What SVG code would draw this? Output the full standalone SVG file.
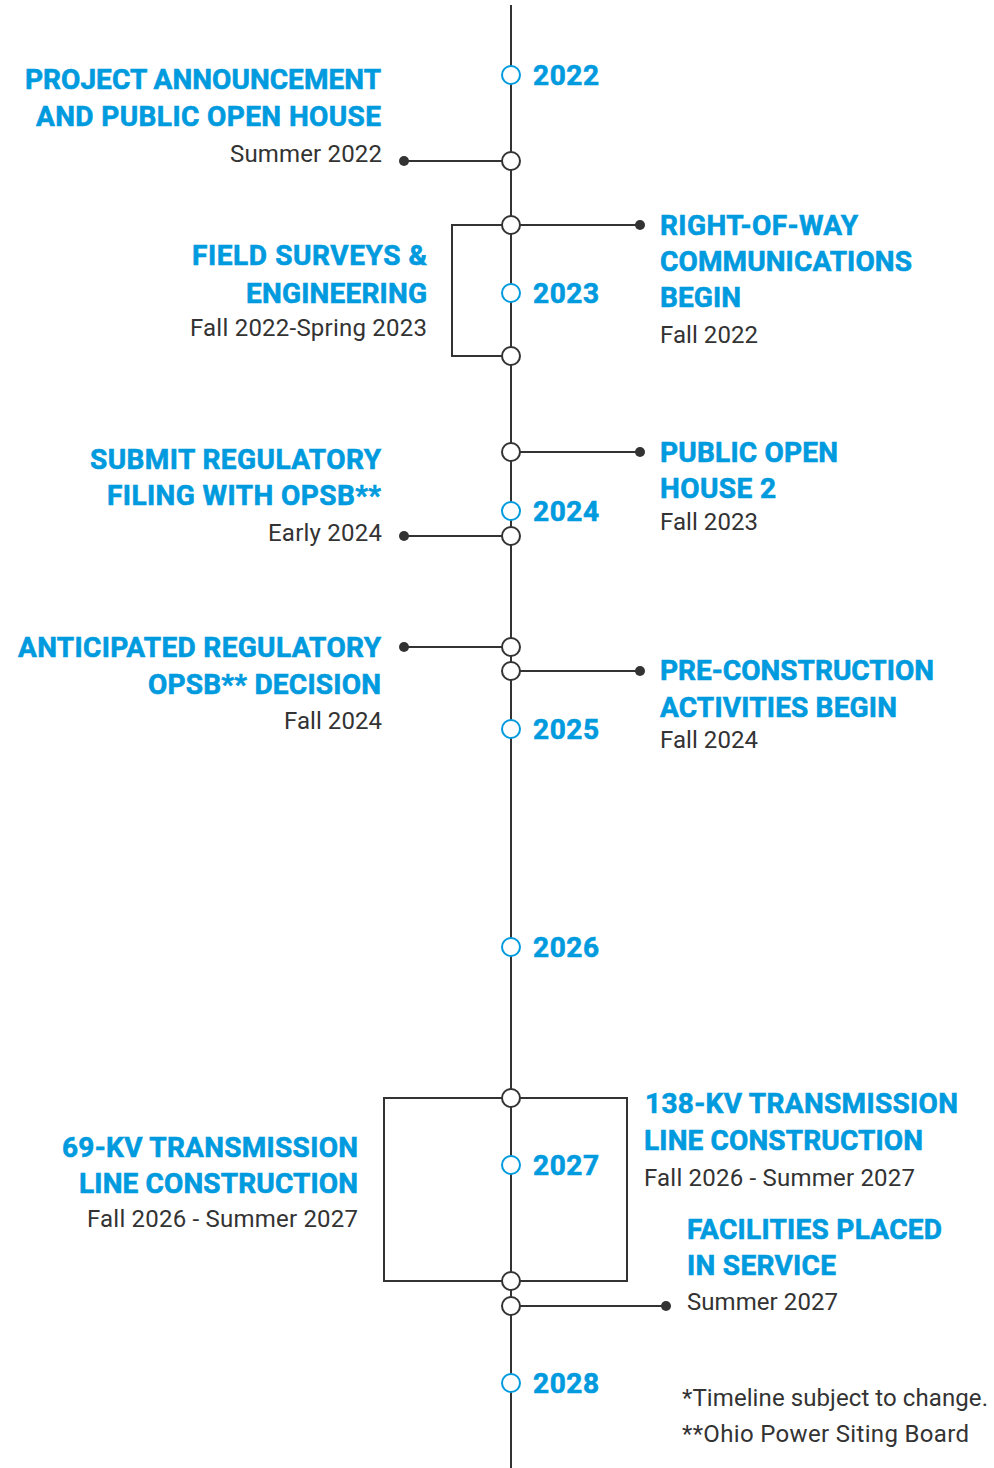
<svg xmlns="http://www.w3.org/2000/svg" width="994" height="1468" viewBox="0 0 994 1468">
<style>
.h{font-family:Roboto,"Liberation Sans",sans-serif;font-weight:700;font-size:28px;fill:#009ade;stroke:#009ade;stroke-width:0.6}
.y{font-family:Roboto,"Liberation Sans",sans-serif;font-weight:700;font-size:28px;fill:#009ade;stroke:#009ade;stroke-width:0.6}
.s{font-family:Roboto,"Liberation Sans",sans-serif;font-weight:400;font-size:24px;fill:#333}
.r{text-anchor:end}
.ln{stroke:#333;stroke-width:2;fill:none}
.ev{fill:#fff;stroke:#333;stroke-width:2}
.yr{fill:#fff;stroke:#009ade;stroke-width:2}
.dot{fill:#333}
</style>
<rect width="994" height="1468" fill="#fff"/>
<g id="connectors">
  <line class="ln" x1="511" y1="5" x2="511" y2="1468"/>
  <line class="ln" x1="404" y1="161" x2="511" y2="161"/>
  <polyline class="ln" points="511,225 452,225 452,356 511,356"/>
  <line class="ln" x1="511" y1="225" x2="640" y2="225"/>
  <line class="ln" x1="511" y1="452" x2="640" y2="452"/>
  <line class="ln" x1="404" y1="536" x2="511" y2="536"/>
  <line class="ln" x1="404" y1="647" x2="511" y2="647"/>
  <line class="ln" x1="511" y1="671" x2="640" y2="671"/>
  <rect class="ln" x="384" y="1098" width="243" height="183"/>
  <line class="ln" x1="511" y1="1306" x2="666" y2="1306"/>
  <circle class="dot" cx="404" cy="161" r="5"/>
  <circle class="dot" cx="640" cy="225" r="5"/>
  <circle class="dot" cx="640" cy="452" r="5"/>
  <circle class="dot" cx="404" cy="536" r="5"/>
  <circle class="dot" cx="404" cy="647" r="5"/>
  <circle class="dot" cx="640" cy="671" r="5"/>
  <circle class="dot" cx="666" cy="1306" r="5"/>
</g>
<g id="years">
  <circle class="yr" cx="511" cy="75" r="9"/><text class="y" x="533" y="85" textLength="66">2022</text>
  <circle class="yr" cx="511" cy="293" r="9"/><text class="y" x="533" y="303" textLength="66">2023</text>
  <circle class="yr" cx="511" cy="511" r="9"/><text class="y" x="533" y="521" textLength="66">2024</text>
  <circle class="yr" cx="511" cy="729" r="9"/><text class="y" x="533" y="739" textLength="66">2025</text>
  <circle class="yr" cx="511" cy="947" r="9"/><text class="y" x="533" y="957" textLength="66">2026</text>
  <circle class="yr" cx="511" cy="1165" r="9"/><text class="y" x="533" y="1175" textLength="66">2027</text>
  <circle class="yr" cx="511" cy="1383" r="9"/><text class="y" x="533" y="1393" textLength="66">2028</text>
</g>
<g id="announcement">
  <circle class="ev" cx="511" cy="161" r="9"/>
  <text class="h r" x="381" y="89" textLength="356">PROJECT ANNOUNCEMENT</text>
  <text class="h r" x="381" y="126" textLength="345">AND PUBLIC OPEN HOUSE</text>
  <text class="s r" x="382" y="162" textLength="152">Summer 2022</text>
</g>
<g id="surveys">
  <circle class="ev" cx="511" cy="356" r="9"/>
  <text class="h r" x="427" y="265" textLength="235">FIELD SURVEYS &amp;</text>
  <text class="h r" x="427" y="303" textLength="181">ENGINEERING</text>
  <text class="s r" x="427" y="336" textLength="237">Fall 2022-Spring 2023</text>
</g>
<g id="right-of-way">
  <circle class="ev" cx="511" cy="225" r="9"/>
  <text class="h" x="660" y="235" textLength="198">RIGHT-OF-WAY</text>
  <text class="h" x="660" y="271" textLength="252">COMMUNICATIONS</text>
  <text class="h" x="660" y="307" textLength="81">BEGIN</text>
  <text class="s" x="660" y="343" textLength="98">Fall 2022</text>
</g>
<g id="open-house-2">
  <circle class="ev" cx="511" cy="452" r="9"/>
  <text class="h" x="660" y="462" textLength="178">PUBLIC OPEN</text>
  <text class="h" x="660" y="498" textLength="116">HOUSE 2</text>
  <text class="s" x="660" y="530" textLength="98">Fall 2023</text>
</g>
<g id="filing">
  <circle class="ev" cx="511" cy="536" r="9"/>
  <text class="h r" x="381" y="469" textLength="291">SUBMIT REGULATORY</text>
  <text class="h r" x="381" y="505" textLength="274">FILING WITH OPSB**</text>
  <text class="s r" x="382" y="541" textLength="114">Early 2024</text>
</g>
<g id="decision">
  <circle class="ev" cx="511" cy="647" r="9"/>
  <text class="h r" x="381" y="657" textLength="363">ANTICIPATED REGULATORY</text>
  <text class="h r" x="381" y="694" textLength="233">OPSB** DECISION</text>
  <text class="s r" x="382" y="729" textLength="98">Fall 2024</text>
</g>
<g id="pre-construction">
  <circle class="ev" cx="511" cy="671" r="9"/>
  <text class="h" x="660" y="680" textLength="274">PRE-CONSTRUCTION</text>
  <text class="h" x="660" y="717" textLength="237">ACTIVITIES BEGIN</text>
  <text class="s" x="660" y="748" textLength="98">Fall 2024</text>
</g>
<g id="line-138kv">
  <circle class="ev" cx="511" cy="1098" r="9"/>
  <text class="h" x="645" y="1113" textLength="313">138-KV TRANSMISSION</text>
  <text class="h" x="644" y="1150" textLength="279">LINE CONSTRUCTION</text>
  <text class="s" x="644" y="1186" textLength="271">Fall 2026 - Summer 2027</text>
</g>
<g id="line-69kv">
  <circle class="ev" cx="511" cy="1281" r="9"/>
  <text class="h r" x="358" y="1157" textLength="296">69-KV TRANSMISSION</text>
  <text class="h r" x="358" y="1193" textLength="279">LINE CONSTRUCTION</text>
  <text class="s r" x="358" y="1227" textLength="271">Fall 2026 - Summer 2027</text>
</g>
<g id="in-service">
  <circle class="ev" cx="511" cy="1306" r="9"/>
  <text class="h" x="687" y="1239" textLength="255">FACILITIES PLACED</text>
  <text class="h" x="687" y="1275" textLength="149">IN SERVICE</text>
  <text class="s" x="687" y="1310" textLength="151">Summer 2027</text>
</g>
<g id="notes">
  <text class="s" x="682" y="1406" textLength="306">*Timeline subject to change.</text>
  <text class="s" x="682" y="1442" textLength="287">**Ohio Power Siting Board</text>
</g>
</svg>
